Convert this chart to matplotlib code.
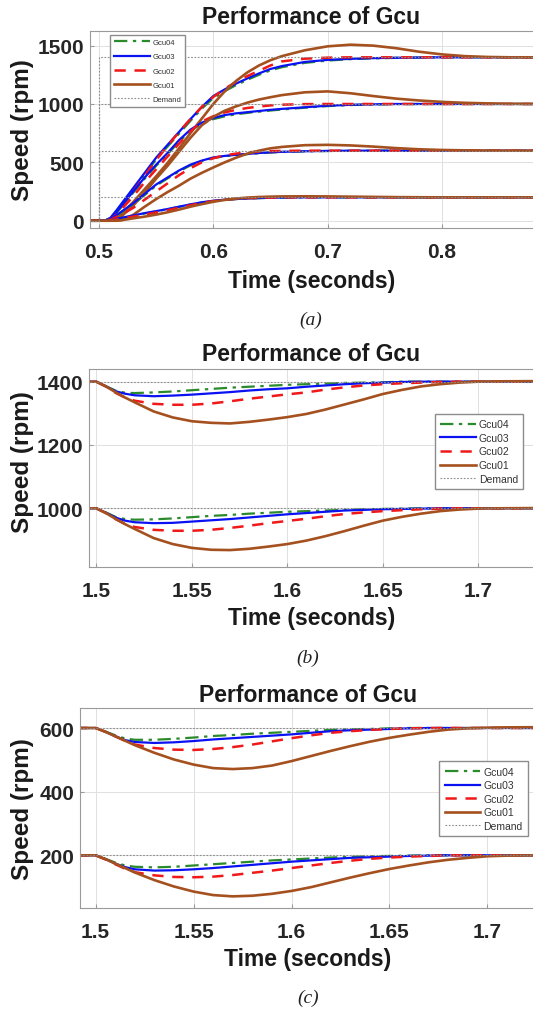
import matplotlib
matplotlib.use("Agg")
import matplotlib.pyplot as plt

plt.rcParams["font.family"] = ["Liberation Sans", "DejaVu Sans"]

## Data
# (a) step response, speed demand applied at 0.5 s
t_a = [0.49, 0.50, 0.505, 0.51, 0.515, 0.52, 0.53, 0.54, 0.55, 0.56, 0.57, 0.58,
       0.59, 0.60, 0.61, 0.62, 0.63, 0.64, 0.65, 0.66, 0.68, 0.70, 0.72, 0.74,
       0.76, 0.78, 0.80, 0.82, 0.84, 0.86, 0.89]

a1400_gcu04 = [0, 0, 0, 20, 75, 140, 265, 395, 525, 635, 745, 855, 960, 1050, 1110, 1162,
               1208, 1250, 1288, 1315, 1352, 1372, 1384, 1391, 1395, 1398, 1400, 1400, 1400, 1400, 1400]
a1400_gcu03 = [0, 0, 0, 25, 85, 150, 280, 410, 540, 650, 760, 870, 975, 1068, 1125, 1175,
               1220, 1262, 1300, 1325, 1360, 1378, 1387, 1393, 1396, 1398, 1400, 1400, 1400, 1400, 1400]
a1400_gcu02 = [0, 0, 0, 15, 60, 120, 250, 385, 520, 640, 760, 870, 975, 1060, 1130, 1190,
               1240, 1285, 1330, 1365, 1388, 1397, 1400, 1400, 1400, 1400, 1400, 1400, 1400, 1400, 1400]
a1400_gcu01 = [0, 0, 0, 0, 10, 55, 160, 270, 380, 495, 620, 750, 875, 1000, 1108, 1198,
               1272, 1330, 1375, 1410, 1460, 1494, 1508, 1500, 1478, 1448, 1425, 1410, 1403, 1400, 1400]

a1000_gcu04 = [0, 0, 0, 18, 65, 120, 240, 360, 470, 570, 675, 770, 830, 870, 894, 912,
               924, 934, 944, 953, 968, 982, 991, 996, 999, 1000, 1000, 1000, 1000, 1000, 1000]
a1000_gcu03 = [0, 0, 0, 20, 70, 130, 250, 370, 480, 580, 690, 780, 840, 880, 905, 920,
               930, 940, 950, 958, 972, 985, 993, 997, 1000, 1000, 1000, 1000, 1000, 1000, 1000]
a1000_gcu02 = [0, 0, 0, 12, 50, 100, 210, 330, 440, 550, 660, 765, 850, 895, 928, 950,
               966, 978, 988, 994, 999, 1000, 1000, 1000, 1000, 1000, 1000, 1000, 1000, 1000, 1000]
a1000_gcu01 = [0, 0, 0, 0, 0, 40, 130, 240, 360, 470, 590, 710, 818, 890, 942, 980,
               1012, 1038, 1058, 1076, 1100, 1108, 1092, 1068, 1046, 1030, 1018, 1010, 1005, 1002, 1000]

a600_gcu04 = [0, 0, 0, 12, 40, 75, 140, 220, 300, 362, 422, 474, 510, 537, 552, 563,
              571, 578, 584, 589, 594, 597, 599, 600, 600, 600, 600, 600, 600, 600, 600]
a600_gcu03 = [0, 0, 0, 15, 45, 80, 150, 230, 310, 370, 430, 480, 515, 542, 555, 565,
              572, 580, 586, 590, 595, 598, 600, 600, 600, 600, 600, 600, 600, 600, 600]
a600_gcu02 = [0, 0, 0, 8, 30, 55, 110, 180, 250, 320, 390, 450, 500, 535, 560, 575,
              585, 592, 596, 598, 600, 600, 600, 600, 600, 600, 600, 600, 600, 600, 600]
a600_gcu01 = [0, 0, 0, 0, 0, 5, 50, 120, 185, 245, 300, 360, 410, 456, 500, 540,
              575, 600, 620, 632, 647, 650, 645, 635, 622, 612, 606, 603, 601, 600, 600]

a200_gcu04 = [0, 0, 0, 4, 13, 23, 42, 62, 80, 98, 118, 138, 155, 168, 178, 185,
              190, 193, 196, 198, 200, 200, 200, 200, 200, 200, 200, 200, 200, 200, 200]
a200_gcu03 = [0, 0, 0, 5, 15, 25, 45, 65, 82, 100, 120, 140, 158, 171, 180, 186,
              190, 194, 197, 198, 200, 200, 200, 200, 200, 200, 200, 200, 200, 200, 200]
a200_gcu02 = [0, 0, 0, 3, 10, 18, 35, 52, 70, 90, 110, 132, 152, 168, 180, 188,
              193, 196, 198, 200, 200, 200, 200, 200, 200, 200, 200, 200, 200, 200, 200]
a200_gcu01 = [0, 0, 0, 0, 0, 5, 20, 35, 52, 72, 95, 120, 142, 162, 178, 190,
              198, 203, 206, 208, 209, 208, 206, 204, 202, 201, 200, 200, 200, 200, 200]

# (b) and (c) load disturbance applied at 1.5 s
t_bc = [1.49, 1.50, 1.505, 1.51, 1.515, 1.52, 1.53, 1.54, 1.55, 1.56, 1.57, 1.58, 1.59,
        1.60, 1.61, 1.62, 1.63, 1.64, 1.65, 1.66, 1.67, 1.68, 1.69, 1.70, 1.71, 1.74]

b1400_gcu04 = [1400, 1400, 1386, 1372, 1365, 1364, 1366, 1369, 1373, 1377, 1381, 1384, 1387,
               1390, 1392, 1394, 1396, 1397, 1398, 1400, 1400, 1400, 1400, 1400, 1400, 1400]
b1400_gcu03 = [1400, 1400, 1385, 1370, 1362, 1357, 1354, 1356, 1359, 1363, 1367, 1372, 1376,
               1379, 1384, 1388, 1392, 1395, 1397, 1399, 1400, 1400, 1400, 1400, 1400, 1400]
b1400_gcu02 = [1400, 1400, 1385, 1365, 1350, 1340, 1330, 1327, 1327, 1331, 1338, 1346, 1353,
               1360, 1366, 1375, 1382, 1388, 1392, 1395, 1397, 1399, 1400, 1400, 1400, 1400]
b1400_gcu01 = [1400, 1400, 1385, 1367, 1350, 1335, 1306, 1287, 1275, 1270, 1268, 1273, 1280,
               1288, 1298, 1312, 1328, 1344, 1361, 1374, 1385, 1392, 1397, 1400, 1401, 1402]

b1000_gcu04 = [1000, 1000, 987, 973, 966, 964, 965, 968, 972, 976, 979, 983, 986,
               989, 991, 993, 995, 997, 998, 999, 1000, 1000, 1000, 1000, 1000, 1000]
b1000_gcu03 = [1000, 1000, 986, 971, 961, 956, 953, 954, 958, 962, 966, 971, 976,
               981, 985, 989, 993, 995, 997, 998, 999, 1000, 1000, 1000, 1000, 1000]
b1000_gcu02 = [1000, 1000, 985, 966, 951, 941, 932, 929, 929, 932, 938, 945, 953,
               960, 967, 975, 982, 987, 991, 994, 997, 999, 1000, 1000, 1000, 1000]
b1000_gcu01 = [1000, 1000, 985, 967, 950, 935, 906, 887, 875, 869, 868, 872, 879,
               887, 898, 912, 928, 945, 961, 973, 983, 991, 996, 999, 1000, 1001]

c600_gcu04 = [600, 600, 589, 577, 567, 563, 563, 566, 570, 575, 578, 582, 585,
              588, 591, 594, 596, 597, 599, 600, 600, 600, 600, 600, 600, 600]
c600_gcu03 = [600, 600, 588, 574, 562, 556, 553, 555, 559, 564, 568, 572, 576,
              580, 585, 590, 593, 595, 597, 599, 600, 600, 600, 600, 600, 600]
c600_gcu02 = [600, 600, 588, 574, 560, 548, 537, 532, 531, 534, 540, 548, 558,
              568, 577, 585, 590, 594, 597, 599, 600, 600, 600, 600, 600, 600]
c600_gcu01 = [600, 600, 588, 574, 560, 546, 522, 501, 485, 474, 471, 474, 482,
              496, 512, 528, 543, 557, 569, 579, 588, 595, 599, 601, 602, 603]

c200_gcu04 = [200, 200, 189, 177, 168, 164, 162, 164, 168, 172, 176, 180, 184,
              187, 190, 193, 195, 197, 198, 199, 200, 200, 200, 200, 200, 200]
c200_gcu03 = [200, 200, 188, 174, 163, 156, 152, 153, 156, 160, 165, 170, 175,
              180, 184, 188, 192, 194, 196, 198, 199, 200, 200, 200, 200, 200]
c200_gcu02 = [200, 200, 187, 172, 158, 147, 137, 132, 131, 133, 138, 145, 152,
              160, 168, 176, 183, 189, 193, 196, 198, 200, 200, 200, 200, 200]
c200_gcu01 = [200, 200, 188, 174, 160, 146, 122, 102, 86, 75, 71, 73, 79,
              88, 100, 115, 130, 144, 157, 168, 178, 186, 192, 197, 199, 201]

demand_a = [1400, 1000, 600, 200]
demand_b = [1400, 1000]
demand_c = [600, 200]

controllers = ["Gcu04", "Gcu03", "Gcu02", "Gcu01"]

## Styles
styles = {
    "Gcu04": dict(color="#2b8a2b", lw=1.6, ls=(0, (6, 2.5, 1.5, 2.5))),
    "Gcu03": dict(color="#0a12f2", lw=1.6, ls="-"),
    "Gcu02": dict(color="#f01818", lw=1.8, ls=(0, (4.5, 3.5))),
    "Gcu01": dict(color="#a5501f", lw=1.9, ls="-"),
}
demand_style = dict(color="#8c8c8c", lw=0.8, ls=(0, (1.5, 1.5)))

W, H = 533, 1012
fig = plt.figure(figsize=(W / 100, H / 100), dpi=100)


def px_axes(left, top, right, bottom):
    return fig.add_axes([left / W, 1 - bottom / H, (right - left) / W, (bottom - top) / H])


def fig_text(x, y, s, **kw):
    fig.text(x / W, 1 - y / H, s, ha="center", va="center", **kw)


def draw_panel(ax, t, curves, demands, step_at, xlim, ylim, xticks, xlabels, yticks,
               legend_box, legend_size, handle_len, label_space):
    # controller responses, one group per speed level
    for level in curves:
        for name, y in zip(controllers, level):
            ax.plot(t, y, label=name if level is curves[0] else None, **styles[name])
    # speed demand (dotted)
    for i, d in enumerate(demands):
        if step_at is not None:
            ax.plot([t[0], step_at, step_at, t[-1]], [0, 0, d, d],
                    label="Demand" if i == 0 else None, **demand_style)
        else:
            ax.plot([t[0], t[-1]], [d, d], label="Demand" if i == 0 else None, **demand_style)

    ax.set_xlim(*xlim)
    ax.set_ylim(*ylim)
    ax.set_xticks(xticks)
    ax.set_xticklabels(xlabels)
    ax.set_yticks(yticks)
    ax.set_yticklabels([str(v) for v in yticks])
    ax.grid(True, color="#e0e0e0", lw=0.7)
    ax.set_axisbelow(True)
    for sp in ax.spines.values():
        sp.set_color("#9a9a9a")
        sp.set_linewidth(0.8)
    ax.tick_params(direction="in", length=3, color="#9a9a9a", labelsize=15)
    ax.tick_params(axis="x", pad=10)
    ax.tick_params(axis="y", pad=4)
    for lab in ax.get_xticklabels() + ax.get_yticklabels():
        lab.set_fontweight("bold")
        lab.set_color("#262626")

    x0, y0 = legend_box
    ax.legend(loc="upper left", bbox_to_anchor=(x0 / W, 1 - y0 / H),
              bbox_transform=fig.transFigure, borderaxespad=0, fontsize=legend_size,
              handlelength=handle_len, handletextpad=0.3, labelspacing=label_space,
              fancybox=False, framealpha=1, edgecolor="#8c8c8c", borderpad=0.5,
              labelcolor="#333333")


## (a)
ax_a = px_axes(89.7, 31.7, 545, 228.7)
draw_panel(
    ax_a, t_a,
    [[a1400_gcu04, a1400_gcu03, a1400_gcu02, a1400_gcu01],
     [a1000_gcu04, a1000_gcu03, a1000_gcu02, a1000_gcu01],
     [a600_gcu04, a600_gcu03, a600_gcu02, a600_gcu01],
     [a200_gcu04, a200_gcu03, a200_gcu02, a200_gcu01]],
    demand_a, 0.5, (0.4919, 0.8902), (-60, 1628),
    [0.5, 0.6, 0.7, 0.8], ["0.5", "0.6", "0.7", "0.8"], [0, 500, 1000, 1500],
    (109.7, 36), 5.5, 4.8, 0.9,
)

## (b)
ax_b = px_axes(88.7, 370, 545, 568.3)
draw_panel(
    ax_b, t_bc,
    [[b1400_gcu04, b1400_gcu03, b1400_gcu02, b1400_gcu01],
     [b1000_gcu04, b1000_gcu03, b1000_gcu02, b1000_gcu01]],
    demand_b, None, (1.49602, 1.7349), (813.6, 1440),
    [1.5, 1.55, 1.6, 1.65, 1.7], ["1.5", "1.55", "1.6", "1.65", "1.7"], [1000, 1200, 1400],
    (435, 415), 7.5, 3.4, 0.35,
)

## (c)
ax_c = px_axes(80, 709.3, 545, 909.3)
draw_panel(
    ax_c, t_bc,
    [[c600_gcu04, c600_gcu03, c600_gcu02, c600_gcu01],
     [c200_gcu04, c200_gcu03, c200_gcu02, c200_gcu01]],
    demand_c, None, (1.492, 1.7294), (33.5, 661.9),
    [1.5, 1.55, 1.6, 1.65, 1.7], ["1.5", "1.55", "1.6", "1.65", "1.7"], [200, 400, 600],
    (439.3, 762.3), 7.5, 3.4, 0.35,
)

## Titles, axis labels, captions
label_kw = dict(fontsize=16.5, fontweight="bold", color="#1a1a1a")
for (tx, ty), (xx, xy), (yx, yy), (cx, cy), cap in [
    ((311, 17), (312, 282), (22, 130), (311, 320), "(a)"),
    ((311, 355), (312, 618), (22, 462), (308, 658), "(b)"),
    ((308, 695), (308, 960), (22, 809), (308, 998), "(c)"),
]:
    fig_text(tx, ty, "Performance of Gcu", **label_kw)
    fig_text(xx, xy, "Time (seconds)", **label_kw)
    fig_text(yx, yy, "Speed (rpm)", rotation=90, fontsize=17.5, fontweight="bold", color="#1a1a1a")
    fig_text(cx, cy, cap, fontsize=14, style="italic", family=["Liberation Serif", "DejaVu Serif"],
             color="#222222")

fig.savefig("out.png", dpi=100)
